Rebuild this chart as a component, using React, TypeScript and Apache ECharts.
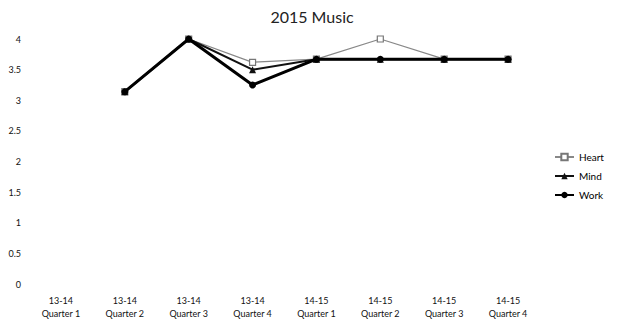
import React, { useEffect, useRef } from "react";
import * as echarts from "echarts";

const categories = [
  "13-14\nQuarter 1",
  "13-14\nQuarter 2",
  "13-14\nQuarter 3",
  "13-14\nQuarter 4",
  "14-15\nQuarter 1",
  "14-15\nQuarter 2",
  "14-15\nQuarter 3",
  "14-15\nQuarter 4",
];
const heart = [null, 3.14, 4, 3.62, 3.67, 4, 3.67, 3.67];
const mind = [null, 3.14, 4, 3.5, 3.67, 3.67, 3.67, 3.67];
const work = [null, 3.14, 4, 3.25, 3.67, 3.67, 3.67, 3.67];

const FONT = "Lato";

export default function App() {
  const ref = useRef<HTMLDivElement>(null);
  useEffect(() => {
    const chart = echarts.init(ref.current!, null, { renderer: "svg" });
    chart.setOption({
      animation: false,
      backgroundColor: "#fff",
      title: {
        text: "2015 Music",
        left: 307,
        top: 3,
        textAlign: "center",
        textStyle: { fontFamily: FONT, fontSize: 16, fontWeight: "normal", color: "#222" },
      },
      legend: {
        orient: "vertical",
        left: 549,
        top: 147,
        itemGap: 9,
        itemWidth: 19,
        itemHeight: 8,
        textStyle: { fontFamily: FONT, fontSize: 10, color: "#000" },
        data: ["Heart", "Mind", "Work"],
      },
      grid: { left: 29, right: 80, top: 39, bottom: 46 },
      xAxis: {
        type: "category",
        data: categories,
        boundaryGap: true,
        axisLine: { show: false },
        axisTick: { show: false },
        axisLabel: { fontFamily: FONT, fontSize: 9, color: "#111", lineHeight: 13, margin: 10 },
      },
      yAxis: {
        type: "value",
        min: 0,
        max: 4,
        interval: 0.5,
        splitLine: { show: false },
        axisLine: { show: false },
        axisTick: { show: false },
        axisLabel: { fontFamily: FONT, fontSize: 9, color: "#111", margin: 8 },
      },
      series: [
        {
          name: "Heart",
          type: "line",
          data: heart,
          symbol: "rect",
          symbolSize: 6,
          lineStyle: { color: "#888", width: 1.3 },
          itemStyle: { color: "#fff", borderColor: "#777", borderWidth: 1.2 },
          z: 1,
        },
        {
          name: "Mind",
          type: "line",
          data: mind,
          symbol: "triangle",
          symbolSize: 7,
          lineStyle: { color: "#111", width: 2 },
          itemStyle: { color: "#111" },
          z: 2,
        },
        {
          name: "Work",
          type: "line",
          data: work,
          symbol: "circle",
          symbolSize: 7,
          lineStyle: { color: "#000", width: 3 },
          itemStyle: { color: "#000" },
          z: 3,
        },
      ],
    });
    return () => chart.dispose();
  }, []);
  return (
    <div
      ref={ref}
      style={{ position: "fixed", left: 0, top: 0, width: 620, height: 330 }}
    />
  );
}
